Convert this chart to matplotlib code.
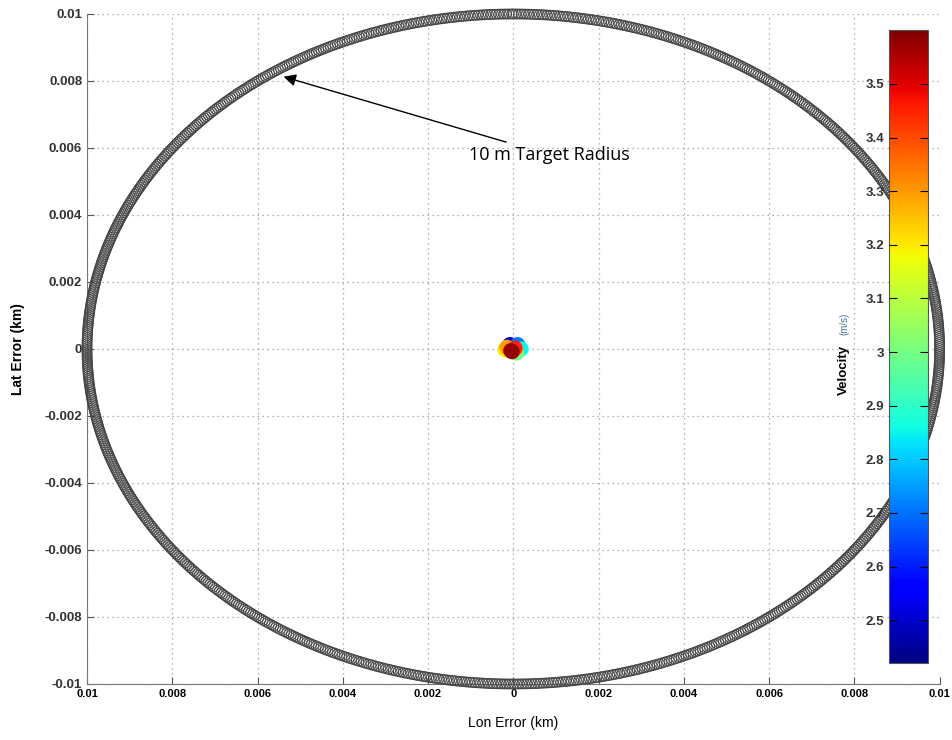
import matplotlib.pyplot as plt
import numpy as np

# target radius ring (km)
target_radius = 0.01
ring_angles_deg = np.arange(0, 360, 0.35)

# cluster of position error points near the centre
lon_err = [-0.00008, 0.00010, 0.00018, 0.00008, -0.00020, -0.00015, 0.00004, -0.00006, -0.00003]
lat_err = [0.00013, 0.00013, 0.00000, -0.00012, -0.00002, 0.00005, 0.00002, -0.00005, -0.00008]
velocity = [2.50, 2.70, 2.85, 3.00, 3.20, 3.30, 3.45, 3.55, 3.58]

ticks = [-0.01, -0.008, -0.006, -0.004, -0.002, 0, 0.002, 0.004, 0.006, 0.008, 0.01]
xtick_labels = ["0.01", "0.008", "0.006", "0.004", "0.002", "0", "0.002", "0.004", "0.006", "0.008", "0.01"]
ytick_labels = ["-0.01", "-0.008", "-0.006", "-0.004", "-0.002", "0", "0.002", "0.004", "0.006", "0.008", "0.01"]
cbar_ticks = [2.5, 2.6, 2.7, 2.8, 2.9, 3.0, 3.1, 3.2, 3.3, 3.4, 3.5]
cbar_labels = ["2.5", "2.6", "2.7", "2.8", "2.9", "3", "3.1", "3.2", "3.3", "3.4", "3.5"]
vmin, vmax = 2.42, 3.6

plt.rcParams['font.family'] = ['Liberation Sans', 'DejaVu Sans']

fig = plt.figure(figsize=(9.52, 7.4), dpi=100)
ax = fig.add_axes([0.0914, 0.0757, 0.8956, 0.9054])

a = np.radians(ring_angles_deg)
ax.scatter(target_radius * np.sin(a), target_radius * np.cos(a), s=50, facecolors='none',
           edgecolors='#444444', linewidths=0.7, clip_on=False, zorder=3)

order = np.argsort(velocity)
sc = ax.scatter(np.array(lon_err)[order], np.array(lat_err)[order], c=np.array(velocity)[order],
                cmap='jet', vmin=vmin, vmax=vmax, s=120, edgecolors='none', zorder=4)

ax.set_xlim(-0.01, 0.01)
ax.set_ylim(-0.01, 0.01)
ax.set_xticks(ticks)
ax.set_xticklabels(xtick_labels, fontsize=8, fontweight='bold')
ax.set_yticks(ticks)
ax.set_yticklabels(ytick_labels, fontsize=9.5, fontweight='bold', color='#333333')
ax.tick_params(direction='in', length=5, color='#555555', top=False, right=False)
ax.grid(True, linestyle=(0, (1, 3)), color='#999999', linewidth=0.9)
for s in ax.spines.values():
    s.set_color('#777777')
ax.spines['top'].set_visible(False)
ax.spines['right'].set_visible(False)
ax.set_xlabel("Lon Error (km)", fontsize=10, labelpad=12)
ax.set_ylabel("Lat Error (km)", fontsize=10, fontweight='bold', labelpad=14)

ax.annotate("10 m Target Radius", xy=(-0.00545, 0.00815), xytext=(-0.00105, 0.0058),
            fontsize=13, family=['Open Sans', 'DejaVu Sans'], va='center',
            arrowprops=dict(arrowstyle='-|>', color='black', lw=1, mutation_scale=18))

cax = fig.add_axes([0.934, 0.104, 0.041, 0.855])
cb = fig.colorbar(sc, cax=cax)
cb.set_ticks(cbar_ticks)
cb.set_ticklabels(cbar_labels)
cax.yaxis.set_ticks_position('both')
cax.tick_params(direction='in', length=6, labelleft=True, labelright=False, labelsize=9.5)
for lbl in cax.get_yticklabels():
    lbl.set_fontweight('bold')
    lbl.set_color('#333333')
cb.outline.set_edgecolor('#555555')

fig.text(0.886, 0.50, "Velocity", rotation=90, fontsize=9.5, fontweight='bold', ha='center', va='center')
fig.text(0.8868, 0.562, "(m/s)", rotation=90, fontsize=7, color='#4a6fa8', ha='center', va='center')

plt.savefig("out.png", dpi=100)
